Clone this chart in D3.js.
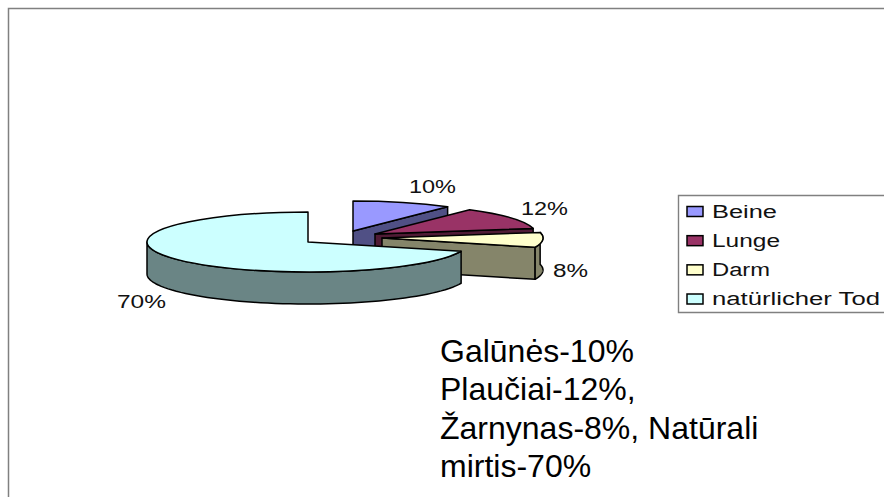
<!DOCTYPE html>
<html><head><meta charset="utf-8">
<script src="https://cdn.jsdelivr.net/npm/d3@7/dist/d3.min.js"></script>
<style>html,body{margin:0;padding:0;background:#fff}svg{display:block}text{font-family:"Liberation Sans",Arial,sans-serif;fill:#111}</style>
</head><body>
<script>
const categories = ["Beine", "Lunge", "Darm", "natürlicher Tod"];
const values = [10, 12, 8, 70];
const colors = ["#9999ff", "#993366", "#ffffcc", "#ccffff"];
const percentLabels = ["10%", "12%", "8%", "70%"];
const noteLines = ["Galūnės-10%", "Plaučiai-12%,", "Žarnynas-8%, Natūrali", "mirtis-70%"];

// layout (not data)
const apex = [[353,231],[375,234],[382,238],[308,242]];
const labelPos = [[432.5,193],[544.5,215],[570.5,277],[141.5,308]];
const labelWidths = [47,47,35,49];
const legendWidths = [65,68,58,168];
const rx = 161, ry = 30, depth = 32;

const svg = d3.select("body").append("svg").attr("width",884).attr("height",497);
svg.append("path").attr("d","M884,8.5H8.5V497").attr("fill","none").attr("stroke","#808080").attr("stroke-width",1.5);

const arcs = d3.pie().sort(null).startAngle(0).endAngle(2*Math.PI)(values);
const arc = d3.arc().innerRadius(0).outerRadius(rx);
const shade = c => d3.interpolateRgb(c,"#000")(0.48);
const pt = (a,ax,ay,dz=0) => [ax+rx*Math.sin(a), ay-ry*Math.cos(a)+dz];
const line = d3.line();
function face(g,d,fill){
  return g.append("path").attr("d",d).attr("fill",fill)
    .attr("stroke","#000").attr("stroke-width",1.5).attr("stroke-linejoin","round");
}
arcs.forEach((s,i)=>{
  const [ax,ay]=apex[i];
  const g=svg.append("g");
  const dark=shade(colors[i]);
  const e=pt(s.endAngle,ax,ay);
  if(s.endAngle<=Math.PI/2){
    face(g,line([[ax,ay],e,[e[0],e[1]+depth],[ax,ay+depth]])+"Z",dark);
  } else {
    if(Math.sin(s.endAngle)>0) face(g,line([[ax,ay],e,[e[0],e[1]+depth],[ax,ay+depth]])+"Z",dark);
    const a1=Math.min(s.endAngle,3*Math.PI/2);
    const angles=d3.range(0,61).map(k=>s.startAngle+(a1-s.startAngle)*k/60);
    face(g,line(angles.map(a=>pt(a,ax,ay)).concat(angles.map(a=>pt(a,ax,ay,depth)).reverse()))+"Z",dark);
  }
  face(g,arc(s),colors[i])
    .attr("transform",`translate(${ax},${ay}) scale(1,${ry/rx})`)
    .attr("vector-effect","non-scaling-stroke");
});

percentLabels.forEach((t,i)=>{
  svg.append("text").attr("x",labelPos[i][0]).attr("y",labelPos[i][1]).attr("text-anchor","middle")
    .attr("font-size",18).attr("textLength",labelWidths[i]).attr("lengthAdjust","spacingAndGlyphs").text(t);
});

// legend
svg.append("path").attr("d","M884,195.5H678.5V312.5H884").attr("fill","#fff").attr("stroke","#808080").attr("stroke-width",1.4);
const rowY = d3.scalePoint().domain(categories).range([211.5,299]);
categories.forEach((c,i)=>{
  const y=rowY(c);
  svg.append("rect").attr("x",687).attr("y",y-5).attr("width",16).attr("height",10)
    .attr("fill",colors[i]).attr("stroke","#000").attr("stroke-width",1.5);
  svg.append("text").attr("x",712).attr("y",y+6).attr("font-size",18)
    .attr("textLength",legendWidths[i]).attr("lengthAdjust","spacingAndGlyphs").text(c);
});

// note
noteLines.forEach((t,i)=>{
  svg.append("text").attr("x",440).attr("y",362+i*38.4).attr("font-size",32).style("fill","#000").text(t);
});
</script>
</body></html>
